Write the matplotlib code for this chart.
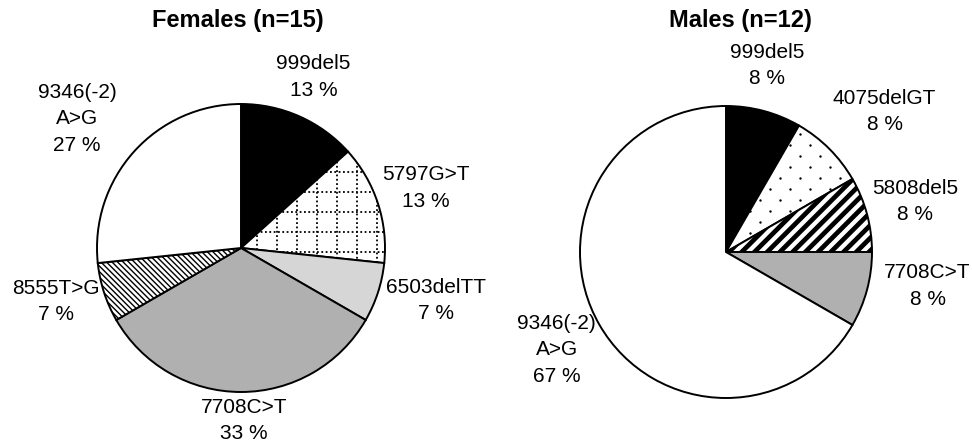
import numpy as np
import matplotlib
matplotlib.use("Agg")
import matplotlib.pyplot as plt

plt.rcParams['font.family'] = ['Liberation Sans', 'DejaVu Sans']
plt.rcParams['hatch.linewidth'] = 1.0

# data
fem_labels = ["999del5", "5797G>T", "6503delTT", "7708C>T", "8555T>G", "9346(-2)\nA>G"]
fem_counts = [2, 2, 1, 5, 1, 4]
fem_pct = [13, 13, 7, 33, 7, 27]

male_labels = ["999del5", "4075delGT", "5808del5", "7708C>T", "9346(-2)\nA>G"]
male_counts = [1, 1, 1, 1, 8]
male_pct = [8, 8, 8, 8, 67]

# styles
fem_fill = ["black", "white", "#d6d6d6", "#b0b0b0", "white", "white"]
fem_pattern = [None, "dotgrid", None, None, "back", None]
fem_lab_pos = [(1.29, 1), (1.35, 0), (1.40, 2.8), (1.20, 1), (1.34, -2), (1.45, 3.8)]

male_fill = ["black", "white", "white", "#b0b0b0", "white"]
male_pattern = [None, "dots", "stripes", None, None]
male_lab_pos = [(1.31, 2.6), (1.45, -3.5), (1.34, 0), (1.40, 5.4), (1.34, 0)]

fig = plt.figure(figsize=(9.72, 4.47), dpi=100)


def decorate(ax, wedge, kind, r_px):
    u = 1.0 / r_px  # one pixel in data units
    if kind == "dotgrid":
        step = 20 * u
        vals = np.arange(-1.0, 1.01, step)
        for v in vals:
            l1, = ax.plot([v, v], [-1.1, 1.1], color="black", lw=1.3,
                          ls=(0, (1, 1.4)), zorder=3)
            l2, = ax.plot([-1.1, 1.1], [v, v], color="black", lw=1.3,
                          ls=(0, (1, 1.4)), zorder=3)
            l1.set_clip_path(wedge)
            l2.set_clip_path(wedge)
    elif kind == "dots":
        xs, ys = [], []
        row = 0
        for y in np.arange(-1.0, 1.01, 11 * u):
            off = (row % 2) * 10 * u
            for x in np.arange(-1.0, 1.01, 20 * u):
                xs.append(x + off)
                ys.append(y)
            row += 1
        sc = ax.scatter(xs, ys, s=3, color="black", zorder=3, linewidths=0)
        sc.set_clip_path(wedge)
    elif kind == "stripes":
        for c in np.arange(-2.2, 2.2, 9 * u * np.sqrt(2)):
            ln, = ax.plot([-1.2, 1.2], [-1.2 + c, 1.2 + c], color="black",
                          lw=3.4, zorder=3, solid_capstyle="butt")
            ln.set_clip_path(wedge)
    elif kind == "back":
        wedge.set_hatch("\\\\\\\\\\\\")


def draw_pie(rect, xlim, ylim, counts, labels, pct, fills, patterns, lab_pos, r_px):
    ax = fig.add_axes(rect)
    wedges, _ = ax.pie(counts, startangle=90, counterclock=False, colors=fills,
                       radius=1.0,
                       wedgeprops=dict(edgecolor="black", linewidth=1.4))
    for w, p in zip(wedges, patterns):
        if p:
            decorate(ax, w, p, r_px)
    for w, lab, pc, (d, off) in zip(wedges, labels, pct, lab_pos):
        mid = np.deg2rad((w.theta1 + w.theta2) / 2 + off)
        ax.text(d * np.cos(mid), d * np.sin(mid), f"{lab}\n{pc} %",
                ha="center", va="center", fontsize=15, linespacing=1.48,
                zorder=10)
    ax.set_xlim(*xlim)
    ax.set_ylim(*ylim)
    ax.set_aspect("auto")
    ax.axis("off")
    return ax


draw_pie([0, 0, 0.5, 1], (-241 / 144, 245 / 144), (-199 / 144, 248 / 144),
         fem_counts, fem_labels, fem_pct, fem_fill, fem_pattern, fem_lab_pos, 144)
draw_pie([0.5, 0, 0.5, 1], (-240 / 146, 246 / 146), (-195 / 146, 252 / 146),
         male_counts, male_labels, male_pct, male_fill, male_pattern, male_lab_pos, 146)

fig.text(238 / 972, 1 - 21 / 447, "Females (n=15)", ha="center", va="center",
         fontsize=17, fontweight="bold")
fig.text(740 / 972, 1 - 21 / 447, "Males (n=12)", ha="center", va="center",
         fontsize=17, fontweight="bold")

fig.savefig("out.png", dpi=100)
